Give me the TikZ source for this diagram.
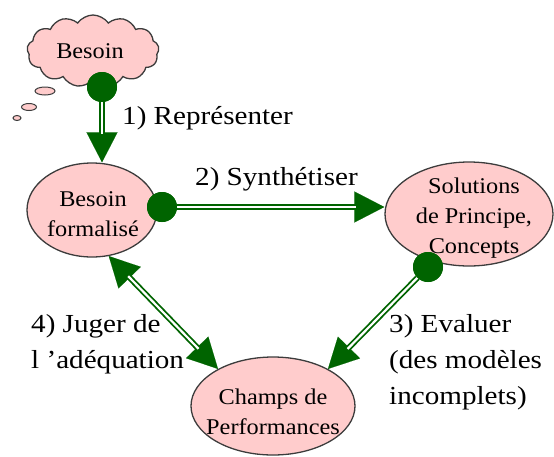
\documentclass[tikz,border=0pt]{standalone}
\usepackage{fontspec}
\setmainfont{Liberation Serif}
\newfontfamily\nodefont[FakeStretch=1.08]{Liberation Serif}
\newfontfamily\lblfont[FakeStretch=1.12]{Liberation Serif}
\usetikzlibrary{shapes.geometric,shapes.symbols,arrows.meta}
\definecolor{dg}{RGB}{0,100,0}
\definecolor{pinkfill}{RGB}{255,204,204}
\definecolor{edge}{RGB}{60,60,60}
\tikzset{
  ell/.style={ellipse, draw=edge, line width=1.3pt, fill=pinkfill, inner sep=0pt},
  intext/.style={font=\nodefont\fontsize{22.5}{30}\selectfont, align=center, inner sep=0pt},
  lbl/.style={font=\lblfont\fontsize{26}{36}\selectfont, align=left, inner sep=0pt},
  dot/.style={circle, fill=dg, inner sep=0pt, minimum size=30pt},
  bubble/.style={ellipse, draw=edge, line width=1pt, fill=pinkfill, inner sep=0pt},
  conn/.style={dg, line width=0.1pt, -{Triangle[length=30pt,width=31pt]},
    postaction={draw, dg, arrows=-, double=white, double distance=2.2pt, line width=1.8pt, shorten >=28pt}},
  conn2/.style={dg, line width=0.1pt, {Triangle[length=30pt,width=31pt]}-{Triangle[length=30pt,width=31pt]},
    postaction={draw, dg, arrows=-, double=white, double distance=2.2pt, line width=1.8pt, shorten >=28pt, shorten <=28pt}}
}
\begin{document}
\begin{tikzpicture}[x=1pt,y=-1pt]
\useasboundingbox (0,0) rectangle (554,456);
% cloud
\node[cloud, cloud puffs=13, cloud puff arc=110, cloud ignores aspect, draw=edge, line width=1.3pt, fill=pinkfill,
      minimum width=132pt, minimum height=72pt, inner sep=0pt] (besoin) at (93,51) {};
\node[intext] (besointxt) at (90,51) {Besoin};
\node[bubble, minimum width=20pt, minimum height=8pt] (b1) at (45,91) {};
\node[bubble, minimum width=15pt, minimum height=7pt] (b2) at (29,107) {};
\node[bubble, minimum width=8pt, minimum height=5pt] (b3) at (17,118) {};
% ellipses
\node[ell, minimum width=130pt, minimum height=94pt] (bf) at (92,210) {};
\node[intext] (bftxt) at (93,214) {Besoin\\formalisé};
\node[ell, minimum width=168pt, minimum height=104pt] (sol) at (469,214) {};
\node[intext] (soltxt) at (474,218) {Solutions\\de Principe,\\Concepts};
\node[ell, minimum width=164pt, minimum height=98pt] (ch) at (273,406) {};
\node[intext] (chtxt) at (273,412) {Champs de\\Performances};
% dots
\node[dot] (d1) at (102,87) {};
\node[dot] (d2) at (162,207) {};
\node[dot] (d3) at (428,267) {};
% connectors
\draw[conn] (d1.south) -- (d1.south |- bf.north);
\draw[conn] (d2.east) -- (d2 -| sol.west);
\draw[conn] (d3) -- (ch.34);
\draw[conn2] (bf.-70) -- (ch.146);
\fill[dg] (d1) circle (15pt);
\fill[dg] (d2) circle (15pt);
\fill[dg] (d3) circle (15pt);
% labels
\node[lbl, anchor=base west] (l1) at (122,124) {1) Représenter};
\node[lbl, anchor=base west] (l2) at (195,185) {2) Synthétiser};
\node[lbl, anchor=west] (l3) at (389,362) {3) Evaluer\\(des modèles\\incomplets)};
\node[lbl, anchor=west] (l4) at (31,344) {4) Juger de\\l ’adéquation};
\end{tikzpicture}
\end{document}
